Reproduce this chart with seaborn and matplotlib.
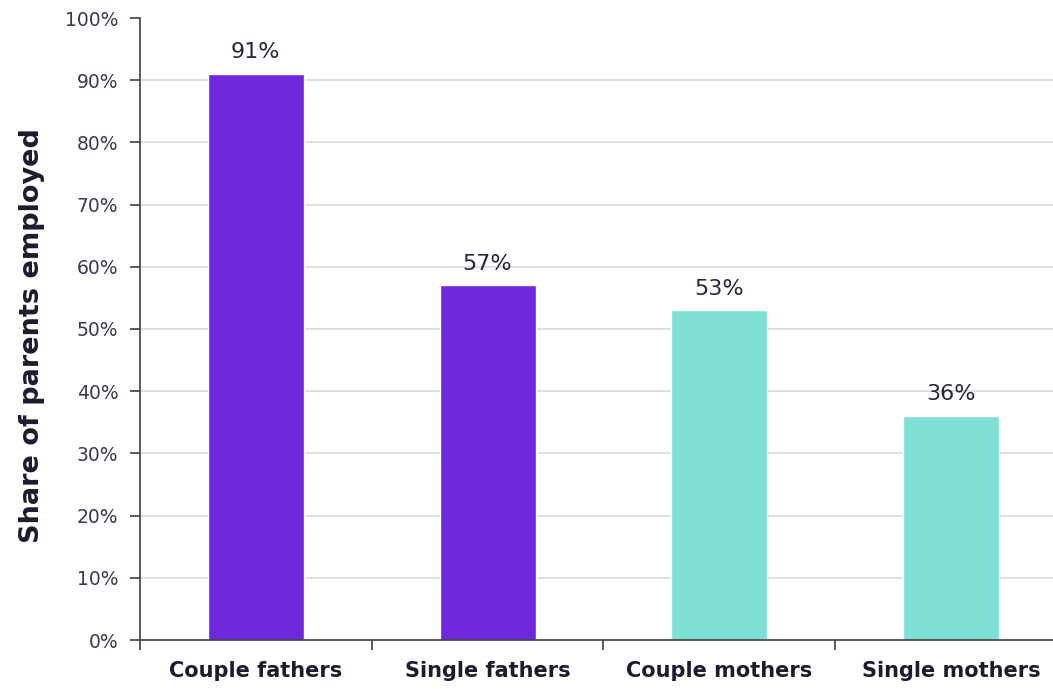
import matplotlib
matplotlib.use("Agg")
import matplotlib.pyplot as plt
from matplotlib.ticker import FixedLocator, PercentFormatter
import seaborn as sns
import pandas as pd

groups = ["Couple fathers", "Single fathers", "Couple mothers", "Single mothers"]
share_employed = [91, 57, 53, 36]
parent = ["father", "father", "mother", "mother"]
palette = {"father": "#6f27de", "mother": "#7de0d3"}

y_ticks = list(range(0, 101, 10))

sns.set_theme(style="white")
plt.rcParams["font.family"] = ["DejaVu Sans"]

df = pd.DataFrame({"group": groups, "share": share_employed, "parent": parent})

fig = plt.figure(figsize=(10.53, 6.89), dpi=100)
ax = fig.add_axes([140 / 1053, 49 / 689, 913 / 1053, 622 / 689])

sns.barplot(data=df, x="group", y="share", hue="parent", palette=palette,
            dodge=False, width=0.415, legend=False, ax=ax, saturation=1)

for i, v in enumerate(share_employed):
    ax.text(i, v + 1.9, f"{v}%", ha="center", va="bottom", fontsize=16,
            color="#26263a")

ax.set_ylim(0, 100)
ax.set_xlim(-0.5, 3.44)
ax.yaxis.set_major_locator(FixedLocator(y_ticks))
ax.yaxis.set_major_formatter(PercentFormatter(decimals=0))
for t in y_ticks[1:-1]:
    ax.axhline(t, color="#d9d9d9", lw=1.2, zorder=0)

ax.set_xticks(range(len(groups)))
ax.set_xticklabels(groups, fontsize=15, fontweight="bold", color="#1c1c2e")
ax.set_xticks([-0.5, 0.5, 1.5, 2.5], minor=True)
ax.tick_params(axis="x", which="major", length=0, pad=15)
ax.tick_params(axis="x", which="minor", length=7, width=1.2, color="#404040",
               direction="out", bottom=True)
ax.tick_params(axis="y", length=7, width=1.2, color="#404040", direction="out",
               left=True, labelsize=13.5, labelcolor="#3a3a4a", pad=8.5)

ax.set_xlabel("")
ax.set_ylabel("Share of parents employed", fontsize=19.5, fontweight="bold",
              color="#1c1c2e")
ax.yaxis.set_label_coords(-0.104, 0.49)

for side in ["top", "right"]:
    ax.spines[side].set_visible(False)
for side in ["left", "bottom"]:
    ax.spines[side].set_color("#404040")
    ax.spines[side].set_linewidth(1.2)

fig.savefig("out.png", dpi=100)
